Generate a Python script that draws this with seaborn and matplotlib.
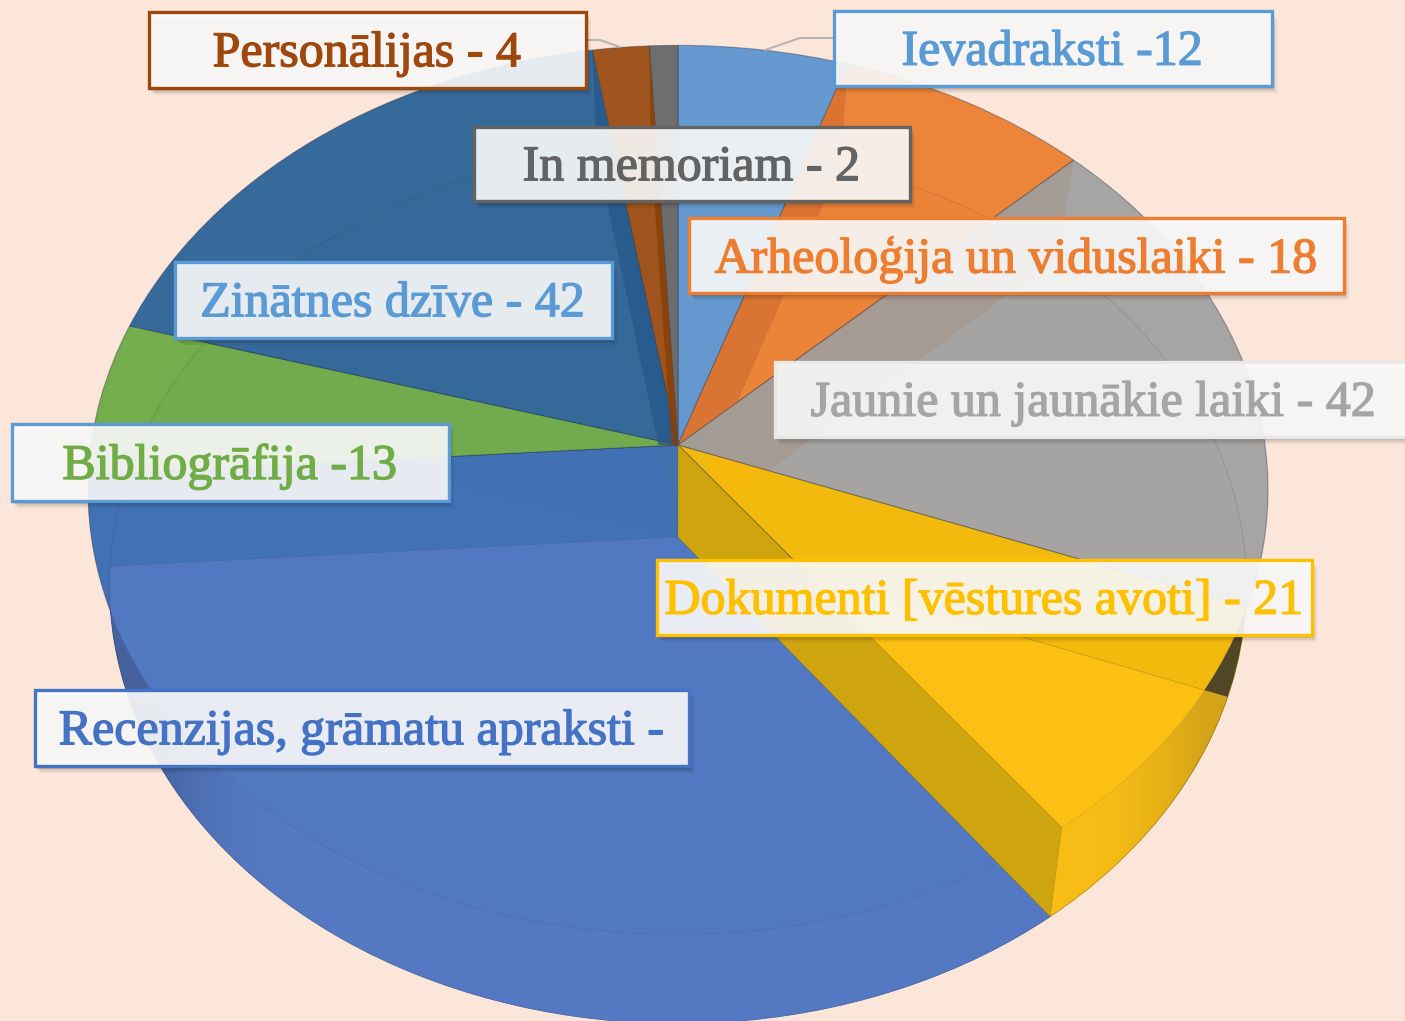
import numpy as np
import matplotlib
matplotlib.use("Agg")
import matplotlib.pyplot as plt
import matplotlib.patches as mpatches
import matplotlib.patheffects as pe
from matplotlib.colors import to_rgba
from matplotlib.transforms import Transform
import seaborn as sns

sns.set_theme(style="white")
plt.rcParams['font.family'] = ['Liberation Serif', 'DejaVu Serif']

# ---- data -------------------------------------------------------------
categories = ["Ievadraksti", "Arheoloģija un viduslaiki", "Jaunie un jaunākie laiki",
              "Dokumenti [vēstures avoti]", "Recenzijas, grāmatu apraksti",
              "Bibliogrāfija", "Zinātnes dzīve", "Personālijas", "In memoriam"]
values = [12, 18, 42, 21, 80, 13, 42, 4, 2]
label_texts = ["Ievadraksti -12", "Arheoloģija un viduslaiki - 18", "Jaunie un jaunākie laiki - 42",
               "Dokumenti [vēstures avoti] - 21", "Recenzijas, grāmatu apraksti -",
               "Bibliogrāfija -13", "Zinātnes dzīve - 42", "Personālijas - 4", "In memoriam - 2"]

# ---- colours -----------------------------------------------------------
BG = "#FCE6D9"
face_colors = ["#6699CF", "#EC843A", "#A6A5A3", "#F6BB0C", "#4272B5", "#73AD4C", "#366A9B", "#A0551E", "#6E6E6E"]
wall_colors = ["#5B8BC0", "#D8752E", "#C9A020", "#E0AE14", "#4C70B4", "#649A42", "#2A5F91", "#8F420D", "#5A5A5A"]
over_colors = ["#4A86C0", "#E0702A", "#8F8A88", "#FFC216", "#577BC6", "#5F9A3F", "#1F5686", "#8A3E0A", "#555555"]
over_alpha = [0.03, 0.03, 0.02, 0.75, 0.75, 0.0, 0.02, 0.04, 0.04]
over_edge = [0, 0, 0, 0.3, 0.15, 0, 0, 0, 0]
text_colors = ["#5B9BD5", "#ED7D31", "#A5A5A5", "#FFC000", "#4472C4", "#70AD47", "#5B9BD5", "#9E480E", "#636363"]
edge_colors = ["#5B9BD5", "#ED7D31", "#E8E8E8", "#FFC000", "#4472C4", "#5B9BD5", "#5B9BD5", "#9E480E", "#636363"]
label_boxes = [(834, 11, 1272, 86), (689, 218, 1344, 293), (775, 362, 1413, 437),
               (657, 560, 1312, 635), (35, 690, 689, 766), (12, 424, 449, 501),
               (175, 262, 612, 338), (149, 12, 586, 88), (474, 127, 910, 201)]
label_order = [7, 0, 8, 1, 6, 2, 5, 3, 4]
# inner faces of the cut: index of the boundary, colour, opacity
cut_faces = [(3, "#CFA50F", 1.0), (6, "#24588C", 0.75), (7, "#8A3E08", 0.8),
             (0, "#D0682A", 0.55), (1, "#A0765A", 0.17)]

W, H = 1405, 1021


class Perspective(Transform):
    """Projects the flat pie disc onto the picture plane (output in pixels)."""
    input_dims = output_dims = 2
    is_separable = False
    has_inverse = False

    def __init__(self, cx, apex, sx, k, b):
        super().__init__()
        self.cx, self.apex, self.sx, self.k, self.b = cx, apex, sx, k, b

    def transform_non_affine(self, values):
        v = np.asarray(values, dtype=float)
        d = 1 + self.b * v[:, 1]
        return np.column_stack((self.cx + self.sx * v[:, 0] / d, self.apex - self.k * v[:, 1] / d))


top = Perspective(678, 445, 587, 440, 0.101)
low = Perspective(678, 537, 565, 433, 0.110)

fig = plt.figure(figsize=(W / 100, H / 100), dpi=100, facecolor=BG)
ax = fig.add_axes([0, 0, 1, 1])


def draw_pie(proj, colors, z, alpha=None, edge=None, edge_alpha=None, lw=0.7):
    wedges, _ = ax.pie(values, colors=colors, startangle=90, counterclock=False, radius=1)
    for i, w in enumerate(wedges):
        fc = to_rgba(colors[i], 1 if alpha is None else alpha[i])
        w.set_transform(proj + ax.transData)
        w.set_facecolor(fc)
        w.set_edgecolor(to_rgba(edge, edge_alpha[i]) if edge else fc)
        w.set_linewidth(lw)
        w.set_zorder(z)
    return wedges


# lower disc: only its rim shows below the upper surface
draw_pie(low, wall_colors, 1)
# upper surface
draw_pie(top, face_colors, 3, edge="#24304F", edge_alpha=[0.4] * len(values), lw=0.8)
# lower disc seen through the upper surface
over = draw_pie(low, over_colors, 4, alpha=over_alpha, edge="#3A3A3A", edge_alpha=over_edge, lw=0.5)
ring = mpatches.Circle((0, 0), 1, transform=low + ax.transData, fc="none",
                       ec=to_rgba("#303030", 0.14), lw=0.7, zorder=4)
ax.add_artist(ring)

clip = mpatches.Circle((0, 0), 1, transform=top + ax.transData)
for w in over + [ring]:
    w.set_clip_path(clip)

# shading of the rim towards both sides
xs = np.linspace(-1, 1, 400)
img = np.zeros((1, 400, 4))
img[0, :, :3] = to_rgba("#101828")[:3]
shade = np.clip((np.abs(xs) - 0.72) / 0.20, 0, 1) ** 1.5 * 0.95
shade[xs > 0] *= 0.7
img[0, :, 3] = shade
im = ax.imshow(img, extent=(678 - 575, 678 + 575, 1021, 130), aspect="auto", zorder=2)
im.set_clip_path(mpatches.Circle((0, 0), 1, transform=low + ax.transData))

ax.set_aspect("auto")
ax.set_xlim(0, W)
ax.set_ylim(H, 0)
ax.set_axis_off()


def intersect(p1, p2, p3, p4):
    p1, p2, p3, p4 = map(np.asarray, (p1, p2, p3, p4))
    d1, d2 = p2 - p1, p4 - p3
    t = np.cross(p3 - p1, d2) / np.cross(d1, d2)
    return p1 + t * d1


# inner faces along slice boundaries, derived from the values
boundaries = np.cumsum(values) / np.sum(values) * 2 * np.pi


def rim(proj, idx):
    th = boundaries[idx]
    return proj.transform_non_affine(np.array([[np.sin(th), np.cos(th)]]))[0]


apex_a = (top.cx, top.apex)
apex_b = (low.cx, low.apex)
for idx, col, a in cut_faces:
    p_top, p_low = rim(top, idx), rim(low, idx)
    if idx == 3:        # front: full quad down to the lower apex
        poly = [apex_a, apex_b, p_low, p_top]
    elif idx in (0, 1):  # stops on the next boundary of the upper surface
        poly = [apex_a, intersect(apex_b, p_low, apex_a, rim(top, idx + 1)), p_low, p_top]
    else:               # back: only above the upper apex height
        f = (apex_b[1] - apex_a[1]) / (apex_b[1] - p_low[1])
        mid = (apex_b[0] + f * (p_low[0] - apex_b[0]), apex_a[1])
        poly = [apex_a, mid, p_low, p_top]
    ax.add_patch(mpatches.Polygon(poly, closed=True, fc=to_rgba(col, a), ec=to_rgba("#6A5A20", 0.25 * a),
                                  lw=0.6, zorder=5))

# labels
ax.plot([833, 800, 765], [38, 38, 50], color="#B5B5B5", lw=1.5, zorder=6)
ax.plot([586, 600, 620], [40, 40, 47], color="#B5B5B5", lw=1.5, zorder=6)
for z, i in enumerate(label_order):
    x0, y0, x1, y1 = label_boxes[i]
    base = 7 + z * 3
    for off, a in ((7, 0.06), (5, 0.08), (3, 0.12)):
        ax.add_patch(mpatches.Rectangle((x0 + off - 2, y0 + off), x1 - x0, y1 - y0, fc=(0, 0, 0, a),
                                        ec="none", zorder=base))
    ax.add_patch(mpatches.Rectangle((x0, y0), x1 - x0, y1 - y0, fc=(1, 1, 1, 0.89),
                                    ec=edge_colors[i], lw=2.4, zorder=base + 1))
    t = ax.text((x0 + x1) / 2 - 1, (y0 + y1) / 2 + 4, label_texts[i], color=text_colors[i],
                fontsize=36, ha="center", va="center", zorder=base + 2)
    t.set_path_effects([pe.withStroke(linewidth=1.0, foreground=text_colors[i])])

fig.savefig("out.png", dpi=100, facecolor=BG)
